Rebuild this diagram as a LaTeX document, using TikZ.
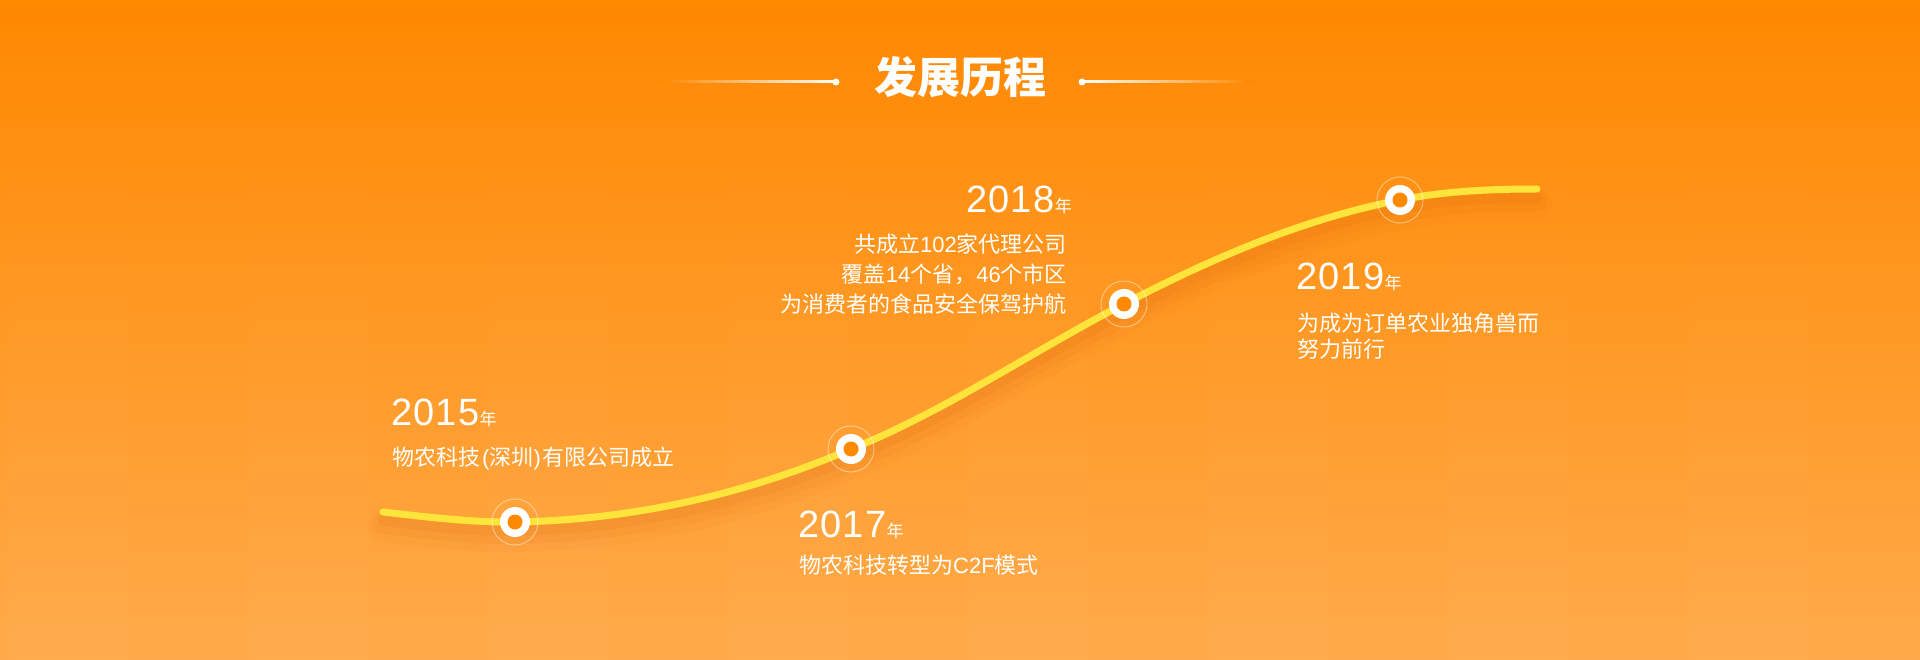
\documentclass[tikz,border=0pt]{standalone}
\usepackage{fontspec}
\usetikzlibrary{fadings}
\newfontfamily\cjk{Noto Sans CJK SC}
\newfontfamily\digitsf{Liberation Sans}
\newfontfamily\yearf{Liberation Sans}[LetterSpace=3]
\definecolor{bgtop}{HTML}{FF8800}
\definecolor{bgmid}{HTML}{FF982A}
\definecolor{bgbot}{HTML}{FFAA4A}
\definecolor{curveyel}{HTML}{FFE43C}
\definecolor{mkorange}{HTML}{FF8A00}
\definecolor{shadowc}{HTML}{D45A08}
\tikzset{
  yearlbl/.style={text=white, inner sep=0pt, font=\yearf\fontsize{38}{42}\selectfont},
  bodytxt/.style={text=white, inner sep=0pt, font=\cjk\fontsize{22}{26}\selectfont},
  titletxt/.style={text=white, inner sep=0pt, font=\cjk\bfseries\fontsize{43}{48}\selectfont},
  curveline/.style={line cap=round, line join=round},
  stripe/.style={white, opacity=0.025, path fading=north},
}
\newcommand\nian{\kern0.5pt{\cjk\fontsize{17}{20}\selectfont 年}}
\newcommand\lat[1]{{\digitsf #1}}
\newcommand\tlcurve[1]{\draw[curveline,#1] (cs) .. controls (427,517) and (471,522.5) .. (m15)
  .. controls (627,520) and (739,497) .. (m17)
  .. controls (942,413) and (1033,351) .. (m18)
  .. controls (1216,256) and (1307,218) .. (m19)
  .. controls (1445,191) and (1491,189) .. (ce);}
\newcommand\tlmarker[1]{%
  \draw[white, opacity=0.45, line width=0.9pt] (#1) circle[radius=23pt];
  \fill[white] (#1) circle[radius=15pt];
  \fill[mkorange] (#1) circle[radius=7.5pt];}
\begin{document}
\begin{tikzpicture}[x=1pt, y=-1pt]
\useasboundingbox (0,0) rectangle (1920,660);
% background
\shade[top color=bgtop, middle color=bgmid, bottom color=bgbot] (0,0) rectangle (1920,660);
\foreach \k in {0,2,...,14} {
  \fill[stripe] ({9+120*\k},0) rectangle ({129+120*\k},660);
}
% title
\node[titletxt, anchor=base] (title) at (960,94) {发展历程};
\coordinate (tla) at (661,82);
\coordinate (tlb) at (836,82);
\coordinate (tra) at (1082,82);
\coordinate (trb) at (1252,82);
\shade[left color=bgtop, middle color=white, right color=white] (661,81) rectangle (836,83);
\shade[left color=white, middle color=white, right color=bgtop] (1082,81) rectangle (1252,83);
\fill[white] (tlb) circle[radius=3.5pt];
\fill[white] (tra) circle[radius=3.5pt];
% curve coordinates
\coordinate (cs) at (383,512);
\coordinate (m15) at (515,522);
\coordinate (m17) at (851,449);
\coordinate (m18) at (1124,304);
\coordinate (m19) at (1400,200);
\coordinate (ce) at (1537,189);
% shadow
\tlcurve{shadowc, opacity=0.05, line width=30pt, transform canvas={yshift=-15pt}}
\tlcurve{shadowc, opacity=0.07, line width=20pt, transform canvas={yshift=-12pt}}
\tlcurve{shadowc, opacity=0.09, line width=10pt, transform canvas={yshift=-9pt}}
% curve
\tlcurve{curveyel, line width=7pt}
% markers
\tlmarker{m15}
\tlmarker{m17}
\tlmarker{m18}
\tlmarker{m19}
% 2015
\node[yearlbl, anchor=base west] (y15) at (391,425) {2015\nian};
\node[bodytxt, anchor=base west] (t15) at (392,465) {物农科技\kern2pt\lat{(}深圳\lat{)}\kern2pt 有限公司成立};
% 2017
\node[yearlbl, anchor=base west] (y17) at (798,537) {2017\nian};
\node[bodytxt, anchor=base west] (t17) at (799,573) {物农科技转型为\lat{C2F}模式};
% 2018
\node[yearlbl, anchor=base east] (y18) at (1072,213) {2018\nian};
\node[bodytxt, anchor=base east] (t18a) at (1067,253) {共成立\lat{102}家代理公司};
\node[bodytxt, anchor=base east] (t18b) at (1067,283) {覆盖\lat{14}个省，\lat{46}个市区};
\node[bodytxt, anchor=base east] (t18c) at (1067,313) {为消费者的食品安全保驾护航};
% 2019
\node[yearlbl, anchor=base west] (y19) at (1296,290) {2019\nian};
\node[bodytxt, anchor=base west] (t19a) at (1297,331) {为成为订单农业独角兽而};
\node[bodytxt, anchor=base west] (t19b) at (1297,357) {努力前行};
\end{tikzpicture}
\end{document}
